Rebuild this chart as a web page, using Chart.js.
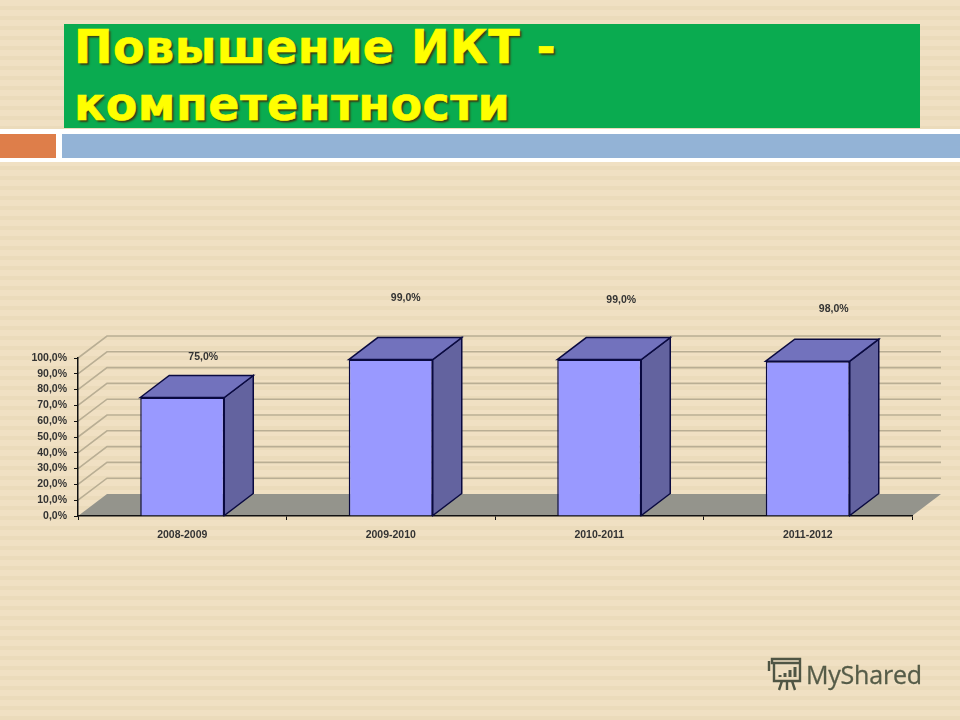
<!DOCTYPE html>
<html lang="ru">
<head>
<meta charset="utf-8">
<title>Повышение ИКТ - компетентности</title>
<script src="https://cdn.jsdelivr.net/npm/chart.js@4"></script>
<style>
  html, body { margin: 0; padding: 0; }
  body {
    width: 960px; height: 720px; position: relative; overflow: hidden;
    background: repeating-linear-gradient(to bottom, #f0e0c3 0, #f0e0c3 6px, #ebdbbb 6px, #ebdbbb 10px);
  }
  #heading {
    position: absolute; left: 64px; top: 24px; width: 856px; height: 104px;
    background: #0aab50; box-sizing: border-box; padding-left: 10px;
    font: bold 46px/57px "DejaVu Sans", sans-serif; color: #ffff00; letter-spacing: 0.5px;
    text-shadow: 2px 2px 2px #3c3c10; -webkit-text-stroke: 0.6px #ffff00;
  }
  #heading span { display: block; position: relative; top: -5px; }
  #band { position: absolute; left: 0; top: 129px; width: 960px; height: 33px; background: #fff; }
  #orange { position: absolute; left: 0; top: 134px; width: 56px; height: 24px; background: #de7e4a; }
  #blue { position: absolute; left: 62px; top: 134px; width: 898px; height: 24px; background: #93b3d6; }
  #chart { position: absolute; left: 0; top: 0; }
  #mark {
    position: absolute; left: 806px; top: 656px;
    font: 25px/36px "Open Sans", sans-serif; color: #565c48; letter-spacing: -0.2px;
    -webkit-text-stroke: 0.3px #565c48;
  }
  #markIcon { position: absolute; left: 767px; top: 657px; }
</style>
</head>
<body>
<div id="heading"><span>Повышение ИКТ -<br>компетентности</span></div>
<div id="band"></div><div id="orange"></div><div id="blue"></div>
<canvas id="chart" width="960" height="720"></canvas>
<svg id="markIcon" width="38" height="36" viewBox="0 0 38 36" fill="none" stroke="#4f5544" stroke-width="2.4">
  <path d="M5 2h28v4H5zM7 6v18h26V6M2 4v10M15 24l-3 9M20 24v9M25 24l3 9"/>
  <path d="M13 20v-2M18 20v-4M23 20v-7M28 20V10" stroke-width="3"/>
</svg>
<div id="mark">MyShared</div>
<script>
const categories = ["2008-2009", "2009-2010", "2010-2011", "2011-2012"];
const values = [75, 99, 99, 98];
const valueLabels = ["75,0%", "99,0%", "99,0%", "98,0%"];

// depth of the fake 3d box
const depthX = 29;
const depthY = 22;
// the labels float well away from the bars in the original
const labelShift = [[21, -40], [15, -61], [22, -59], [26, -52]];

function quad(ctx, pts, fill, stroke) {
  ctx.beginPath();
  ctx.moveTo(pts[0][0], pts[0][1]);
  for (let i = 1; i < pts.length; i++) ctx.lineTo(pts[i][0], pts[i][1]);
  ctx.closePath();
  ctx.fillStyle = fill;
  ctx.fill();
  if (stroke) {
    ctx.strokeStyle = stroke;
    ctx.lineWidth = 1.5;
    ctx.stroke();
  }
}

const box3d = {
  id: "box3d",
  beforeDraw(chart) {
    const ctx = chart.ctx;
    const y = chart.scales.y;
    const a = chart.chartArea;
    ctx.save();
    // floor
    quad(ctx, [[a.left, a.bottom], [a.left + depthX, a.bottom - depthY],
      [a.right + depthX, a.bottom - depthY], [a.right, a.bottom]], "#94948c");
    // wall lines
    ctx.strokeStyle = "#b9ae94";
    ctx.lineWidth = 1.6;
    y.ticks.forEach((t) => {
      if (t.value === 0) return;
      const py = y.getPixelForValue(t.value);
      ctx.beginPath();
      ctx.moveTo(a.left, py);
      ctx.lineTo(a.left + depthX, py - depthY);
      ctx.lineTo(a.right + depthX, py - depthY);
      ctx.stroke();
    });
    ctx.restore();
  },
  afterDatasetsDraw(chart) {
    const ctx = chart.ctx;
    const edge = "#0a0a40";
    ctx.save();
    chart.getDatasetMeta(0).data.forEach((bar, i) => {
      const half = bar.width / 2;
      const l = bar.x - half, r = bar.x + half, top = bar.y, bot = bar.base;
      quad(ctx, [[r, top], [r + depthX, top - depthY], [r + depthX, bot - depthY], [r, bot]], "#63639f", edge);
      quad(ctx, [[l, top], [l + depthX, top - depthY], [r + depthX, top - depthY], [r, top]], "#7272bd", edge);
      ctx.fillStyle = "#333";
      ctx.font = "bold 10.5px 'Liberation Sans', sans-serif";
      ctx.textAlign = "center";
      ctx.textBaseline = "middle";
      ctx.fillText(valueLabels[i], bar.x + labelShift[i][0], top + labelShift[i][1]);
    });
    ctx.restore();
  }
};

new Chart(document.getElementById("chart"), {
  type: "bar",
  data: {
    labels: categories,
    datasets: [{
      data: values,
      backgroundColor: "#9999ff",
      borderColor: "#0a0a40",
      borderWidth: 1.5,
      barPercentage: 0.403,
      categoryPercentage: 1
    }]
  },
  options: {
    responsive: false,
    animation: false,
    devicePixelRatio: 1,
    layout: { padding: { left: 28, right: 48, top: 358, bottom: 174 } },
    plugins: { legend: { display: false }, tooltip: { enabled: false }, title: { display: false } },
    scales: {
      x: {
        afterFit(scale) { scale.height = 30; },
        grid: { drawOnChartArea: false, color: "#111", tickLength: 4, offset: true },
        border: { color: "#111", width: 1.5 },
        ticks: { color: "#333", padding: 9, font: { family: "Liberation Sans", size: 10.5, weight: "bold" } }
      },
      y: {
        min: 0,
        max: 100,
        afterFit(scale) { scale.width = 50; },
        grid: { drawOnChartArea: false, color: "#111", tickLength: 4 },
        border: { color: "#111", width: 1.5 },
        ticks: {
          stepSize: 10,
          padding: 7,
          color: "#333",
          font: { family: "Liberation Sans", size: 10.5, weight: "bold" },
          callback: (v) => v.toFixed(1).replace(".", ",") + "%"
        }
      }
    }
  },
  plugins: [box3d]
});
</script>
</body>
</html>
